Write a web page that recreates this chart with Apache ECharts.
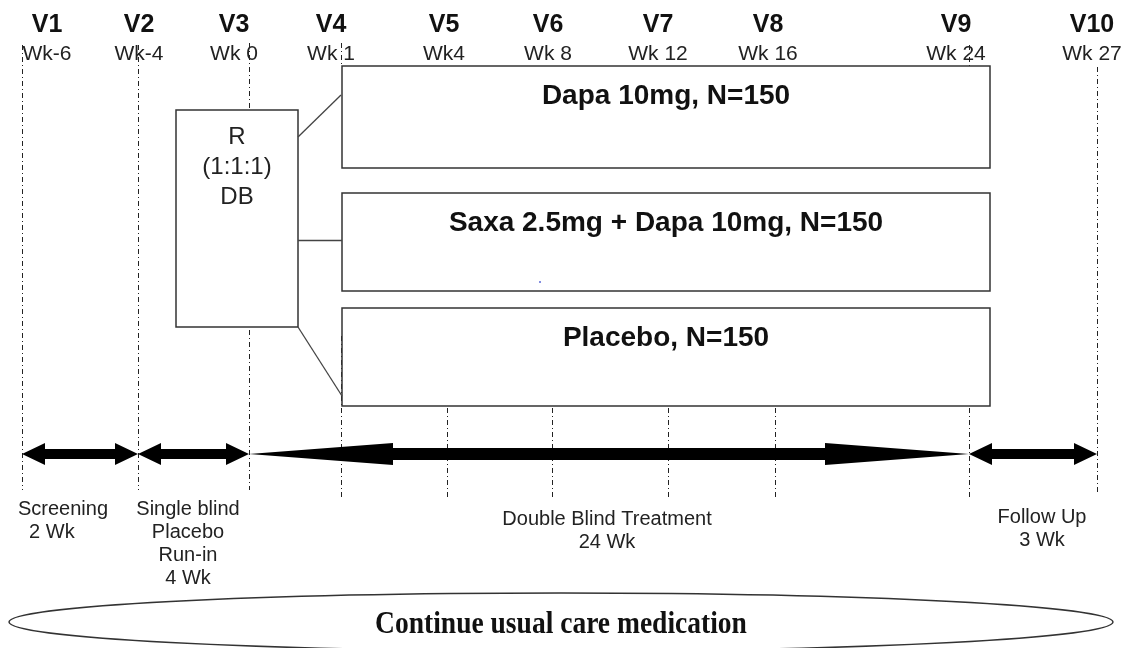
<!DOCTYPE html>
<html>
<head>
<meta charset="utf-8">
<style>
html, body { margin: 0; padding: 0; background: #fff; }
#main { width: 1130px; height: 648px; }
</style>
<script src="https://cdn.jsdelivr.net/npm/echarts@6/dist/echarts.min.js"></script>
</head>
<body>
<div id="main"></div>
<script>
// visit schedule
const visits = ['V1', 'V2', 'V3', 'V4', 'V5', 'V6', 'V7', 'V8', 'V9', 'V10'];
const weeks = ['Wk-6', 'Wk-4', 'Wk 0', 'Wk 1', 'Wk4', 'Wk 8', 'Wk 12', 'Wk 16', 'Wk 24', 'Wk 27'];
const visitX = [22, 138, 249, 341, 447, 552, 668, 775, 969, 1097];
const labelX = [47, 139, 234, 331, 444, 548, 658, 768, 956, 1092];
// dashed visit lines: [visit index, top, bottom]
const visitLines = [
  [0, 45, 490], [1, 45, 490], [2, 43, 110], [2, 330, 490], [3, 43, 66], [3, 336, 500],
  [4, 408, 500], [5, 408, 500], [6, 408, 500], [7, 408, 500], [8, 45, 66], [8, 408, 497], [9, 67, 493]
];

// treatment arms
const arms = ['Dapa 10mg, N=150', 'Saxa 2.5mg + Dapa 10mg, N=150', 'Placebo, N=150'];
const armTop = [66, 193, 308];
const armBottom = [168, 291, 406];
const armLeft = 342, armRight = 990;

// randomisation box
const randBox = [176, 110, 298, 327];
const randText = ['R', '(1:1:1)', 'DB'];
const links = [[298, 137, 341, 95], [298, 240, 342, 240], [298, 327, 342, 396]];

// study periods
const phases = ['Screening\n  2 Wk', 'Single blind\nPlacebo\nRun-in\n4 Wk', 'Double Blind Treatment\n24 Wk', 'Follow Up\n3 Wk'];
const phaseFrom = [0, 1, 2, 8];
const phaseTo = [1, 2, 8, 9];
const phaseLabelX = [18, 188, 607, 1042];
const phaseLabelY = [498, 498, 508, 506];
const phaseAlign = ['left', 'center', 'center', 'center'];

const background = 'Continue usual care medication';

const myChart = echarts.init(document.getElementById('main'));

const sans = '"Liberation Sans", Arial, sans-serif';

// rows: [x, y, text, align?]
function textSeries(name, rows, font, extra) {
  extra = extra || {};
  return {
    type: 'custom',
    name: name,
    coordinateSystem: 'cartesian2d',
    silent: true,
    clip: false,
    data: rows.map(r => [r[0], r[1]]),
    renderItem: function (params, api) {
      const row = rows[params.dataIndex];
      const p = api.coord([api.value(0), api.value(1)]);
      return {
        type: 'text',
        x: p[0],
        y: p[1],
        scaleX: extra.scaleX || 1,
        style: {
          text: row[2],
          font: font,
          fill: extra.color || '#111',
          align: row[3] || 'center',
          verticalAlign: extra.verticalAlign || 'middle',
          lineHeight: extra.lineHeight
        }
      };
    }
  };
}

function rectSeries(name, rows) {
  return {
    type: 'custom',
    name: name,
    coordinateSystem: 'cartesian2d',
    silent: true,
    data: rows,
    renderItem: function (params, api) {
      const a = api.coord([api.value(0), api.value(1)]);
      const b = api.coord([api.value(2), api.value(3)]);
      return {
        type: 'rect',
        shape: { x: a[0], y: a[1], width: b[0] - a[0], height: b[1] - a[1] },
        style: { fill: '#fff', stroke: '#333', lineWidth: 1.5 }
      };
    }
  };
}

myChart.setOption({
  animation: false,
  backgroundColor: '#fff',
  grid: { left: 0, right: 0, top: 0, bottom: 0 },
  xAxis: { type: 'value', min: 0, max: 1130, show: false },
  yAxis: { type: 'value', min: 0, max: 648, inverse: true, show: false },
  series: [
    {
      type: 'lines',
      name: 'visit lines',
      coordinateSystem: 'cartesian2d',
      silent: true,
      data: visitLines.map(s => ({ coords: [[visitX[s[0]], s[1]], [visitX[s[0]], s[2]]] })),
      lineStyle: { color: '#222', width: 1, type: [5, 3, 1, 3], opacity: 1 }
    },
    rectSeries('arms', arms.map((a, i) => [armLeft, armTop[i], armRight, armBottom[i]])),
    rectSeries('randomisation', [randBox]),
    {
      type: 'lines',
      name: 'links',
      coordinateSystem: 'cartesian2d',
      silent: true,
      data: links.map(l => ({ coords: [[l[0], l[1]], [l[2], l[3]]] })),
      lineStyle: { color: '#444', width: 1.3, opacity: 1 }
    },
    {
      type: 'custom',
      name: 'periods',
      coordinateSystem: 'cartesian2d',
      silent: true,
      data: phases.map((p, i) => [visitX[phaseFrom[i]], visitX[phaseTo[i]]]),
      renderItem: function (params, api) {
        const x0 = api.value(0), x1 = api.value(1);
        const long = x1 - x0 > 400;
        const head = long ? 144 : 23;
        const hh = 11, sh = long ? 6 : 5, cy = 454;
        const pts = [
          [x0, cy], [x0 + head, cy - hh], [x0 + head, cy - sh], [x1 - head, cy - sh],
          [x1 - head, cy - hh], [x1, cy], [x1 - head, cy + hh], [x1 - head, cy + sh],
          [x0 + head, cy + sh], [x0 + head, cy + hh]
        ].map(p => api.coord(p));
        return { type: 'polygon', shape: { points: pts }, style: { fill: '#000' } };
      }
    },
    {
      type: 'custom',
      name: 'background',
      coordinateSystem: 'cartesian2d',
      silent: true,
      clip: false,
      data: [[561, 622]],
      renderItem: function (params, api) {
        const c = api.coord([api.value(0), api.value(1)]);
        return {
          type: 'ellipse',
          shape: { cx: c[0], cy: c[1], rx: 552, ry: 29 },
          style: { fill: 'none', stroke: '#333', lineWidth: 1.5 }
        };
      }
    },
    {
      type: 'scatter',
      name: 'dot',
      silent: true,
      symbolSize: 2,
      itemStyle: { color: '#3344cc' },
      data: [[540, 282]]
    },
    textSeries('visits', visits.map((v, i) => [labelX[i], 25, v]), 'bold 25px ' + sans),
    textSeries('weeks', weeks.map((w, i) => [labelX[i], 54, w]), '21px ' + sans, { color: '#222' }),
    textSeries('arm labels', arms.map((a, i) => [(armLeft + armRight) / 2, armTop[i] + 30, a]), 'bold 28px ' + sans),
    textSeries('rand text', randText.map((t, i) => [237, 137 + i * 30, t]), '24px ' + sans, { color: '#222' }),
    textSeries('phase labels', phases.map((p, i) => [phaseLabelX[i], phaseLabelY[i], p, phaseAlign[i]]), '20px ' + sans,
      { color: '#222', verticalAlign: 'top', lineHeight: 23 }),
    textSeries('background text', [[561, 625, background]], 'bold 32px "Liberation Serif", "Times New Roman", serif',
      { scaleX: 0.86 })
  ]
});
</script>
</body>
</html>
